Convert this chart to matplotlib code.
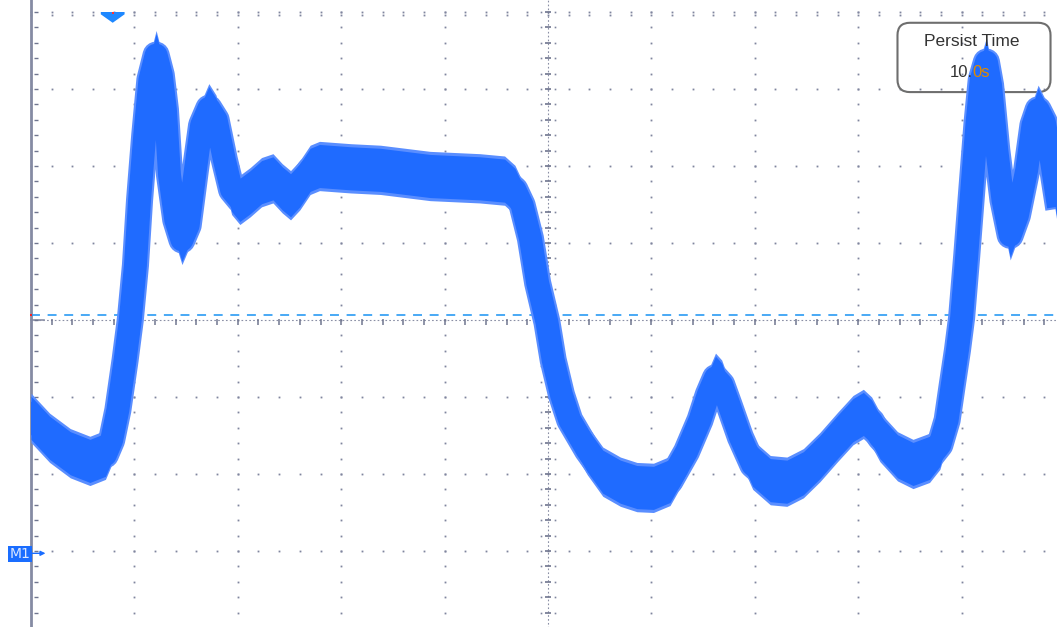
import matplotlib.pyplot as plt
from matplotlib.patches import FancyBboxPatch, Rectangle, Polygon
import numpy as np

# persistence trace, centre line of the band (time and level in divisions)
time_div = [0.00, 0.18, 0.38, 0.57, 0.72, 0.78, 0.84, 0.91, 0.96, 1.01,
            1.05, 1.10, 1.15, 1.21, 1.26, 1.30, 1.34, 1.40, 1.46, 1.52,
            1.59, 1.65, 1.72, 1.79, 1.87, 1.94, 2.02, 2.12, 2.23, 2.34,
            2.43, 2.51, 2.60, 2.70, 2.79, 3.09, 3.38, 3.86, 4.34, 4.58,
            4.68, 4.75, 4.83, 4.90, 4.99, 5.05, 5.13, 5.21, 5.38, 5.53,
            5.70, 5.86, 6.02, 6.18, 6.34, 6.47, 6.55, 6.62, 6.68, 6.75,
            6.86, 6.98, 7.15, 7.31, 7.47, 7.63, 7.80, 7.95, 8.05, 8.13,
            8.21, 8.38, 8.53, 8.69, 8.79, 8.86, 8.91, 8.96, 9.00, 9.05,
            9.10, 9.15, 9.19, 9.24, 9.28, 9.34, 9.40, 9.47, 9.54, 9.63,
            9.69, 9.74, 9.80, 9.86, 9.92]
level_div = [-1.27, -1.53, -1.73, -1.83, -1.75, -1.56, -1.17, -0.52, 0.00, 0.71,
             1.56, 2.40, 3.12, 3.44, 3.18, 2.73, 1.88, 1.30, 1.04, 1.23,
             1.95, 2.53, 2.75, 2.60, 2.08, 1.69, 1.56, 1.66, 1.79, 1.84,
             1.71, 1.62, 1.75, 1.95, 2.00, 1.97, 1.95, 1.87, 1.84, 1.81,
             1.69, 1.49, 1.06, 0.48, -0.03, -0.52, -0.97, -1.30, -1.69, -1.97,
             -2.10, -2.17, -2.18, -2.09, -1.71, -1.30, -0.97, -0.75, -0.84, -1.10,
             -1.52, -1.88, -2.08, -2.10, -1.99, -1.78, -1.52, -1.30, -1.22, -1.32,
             -1.52, -1.77, -1.87, -1.79, -1.62, -1.30, -0.84, -0.39, 0.03, 0.84,
             1.71, 2.57, 3.12, 3.35, 3.05, 2.21, 1.56, 1.10, 1.36, 1.95,
             2.53, 2.73, 2.57, 2.14, 1.62]
noise_half = 0.28      # half height of the persistence band
trigger_level = 0.07
trigger_pos = 0.79
persist_time = ["10.", "0s"]
marker_label = "M1"

t = np.array(time_div)
v = np.array(level_div)

fig = plt.figure(figsize=(10.57, 6.27), dpi=100)
ax = fig.add_axes([0, 0, 1, 1])
ax.set_xlim(-31 / 103.4, (1057 - 31) / 103.4)
ax.set_ylim(-307 / 77, 320 / 77)
ax.axis('off')

grid_c = '#7f859e'
minor = np.round(np.arange(-4, 4.01, 0.2), 2)
minor_x = np.round(np.arange(0, 10.01, 0.2), 2)
# dotted graticule
for gx in range(1, 11):
    if gx == 5:
        continue
    ax.plot([gx] * len(minor), minor, 's', color=grid_c, ms=1.3, mew=0, zorder=1)
for gy in range(-4, 5):
    if gy == 0:
        continue
    ax.plot(minor_x, [gy] * len(minor_x), 's', color=grid_c, ms=1.3, mew=0, zorder=1)
ax.plot(minor_x, [3.96] * len(minor_x), 's', color=grid_c, ms=1.3, mew=0, zorder=1)

# centre axes with ticks
ax.plot([0, 10], [0, 0], color='#8a8fa5', lw=0.8, ls=(0, (1.5, 2)), zorder=1)
ax.plot([0, 0.13], [0, 0], color='#8a8fa5', lw=1.2, zorder=1)
ax.plot(minor_x[1:], [-0.03] * (len(minor_x) - 1), '|', color='#70768f', ms=5, mew=1.1, zorder=1)
ax.plot([5, 5], [-4, 4.2], color='#8a8fa5', lw=0.8, ls=(0, (1.5, 2)), zorder=1)
ax.plot([5] * len(minor), minor, '_', color='#70768f', ms=4.5, mew=1.2, zorder=1)
ax.plot([4.93] * len(minor), minor, 's', color=grid_c, ms=1.2, mew=0, zorder=1)
ax.plot([5.07] * len(minor), minor, 's', color=grid_c, ms=1.2, mew=0, zorder=1)

# left axis
ax.axvline(0, color='#858ba3', lw=2.0, zorder=2)
ax.plot([0.045] * len(minor), minor, '_', color='#70768f', ms=2.5, mew=1.0, zorder=2)

# trigger level
ax.plot([0, 10], [trigger_level, trigger_level], color='#2196f3', lw=1.15,
        dashes=(5.6, 4.8), zorder=3)
ax.plot([0], [trigger_level], 's', color='#ff2020', ms=1.6, mew=0, zorder=4)

# persist time box
box = FancyBboxPatch((8.38, 2.96), 1.48, 0.90,
                     boxstyle='round,pad=0,rounding_size=0.12',
                     mutation_aspect=103.4 / 77,
                     fc='none', ec='#6e6e6e', lw=1.5, zorder=3)
ax.add_patch(box)
ax.text(9.10, 3.62, "Persist Time", ha='center', va='center', fontsize=12.5,
        family='Liberation Sans', color='#333333', zorder=9)
ax.text(9.105, 3.22, persist_time[0], ha='right', va='center', fontsize=12,
        family='Liberation Sans', color='#333333', zorder=9)
ax.text(9.105, 3.22, persist_time[1], ha='left', va='center', fontsize=12,
        family='Liberation Sans', color='#e08a00', zorder=9)

# persistence band, kept right of the left axis
clip = Rectangle((0, -5), 11, 10, transform=ax.transData)
halo = '#5a8eff'
core = '#1f6bff'
arts = []
arts.append(ax.fill_between(t, v - noise_half - 0.04, v + noise_half + 0.04,
                            color=halo, lw=0, zorder=5))
arts += ax.plot(t, v, color=halo, lw=19.5, solid_capstyle='projecting',
                solid_joinstyle='round', zorder=5)
arts.append(ax.fill_between(t, v - noise_half, v + noise_half, color=core, lw=0, zorder=6))
arts += ax.plot(t, v, color=core, lw=16.5, solid_capstyle='projecting',
                solid_joinstyle='round', zorder=6)
for a in arts:
    a.set_clip_path(clip)

# trigger position marker
ax.add_patch(Polygon([(trigger_pos - 0.115, 4.0), (trigger_pos + 0.115, 4.0),
                      (trigger_pos + 0.115, 3.97), (trigger_pos, 3.86),
                      (trigger_pos - 0.115, 3.97)],
                     closed=True, fc='#1e88ff', ec='none', zorder=7))
ax.plot([trigger_pos], [3.99], 's', color='#ff3030', ms=1.5, mew=0, zorder=8)

# M1 reference marker
ax.add_patch(Rectangle((-0.22, -3.14), 0.23, 0.21, fc='#1a6dff', ec='none', zorder=7))
ax.text(-0.105, -3.035, marker_label, ha='center', va='center', fontsize=10,
        color='#dce8ff', zorder=8)
ax.annotate('', xy=(0.14, -3.03), xytext=(0.01, -3.03),
            arrowprops=dict(arrowstyle='-|>', color='#1a6dff', lw=1,
                            mutation_scale=7, shrinkA=0, shrinkB=0), zorder=7)

fig.savefig('out.png', dpi=100)
